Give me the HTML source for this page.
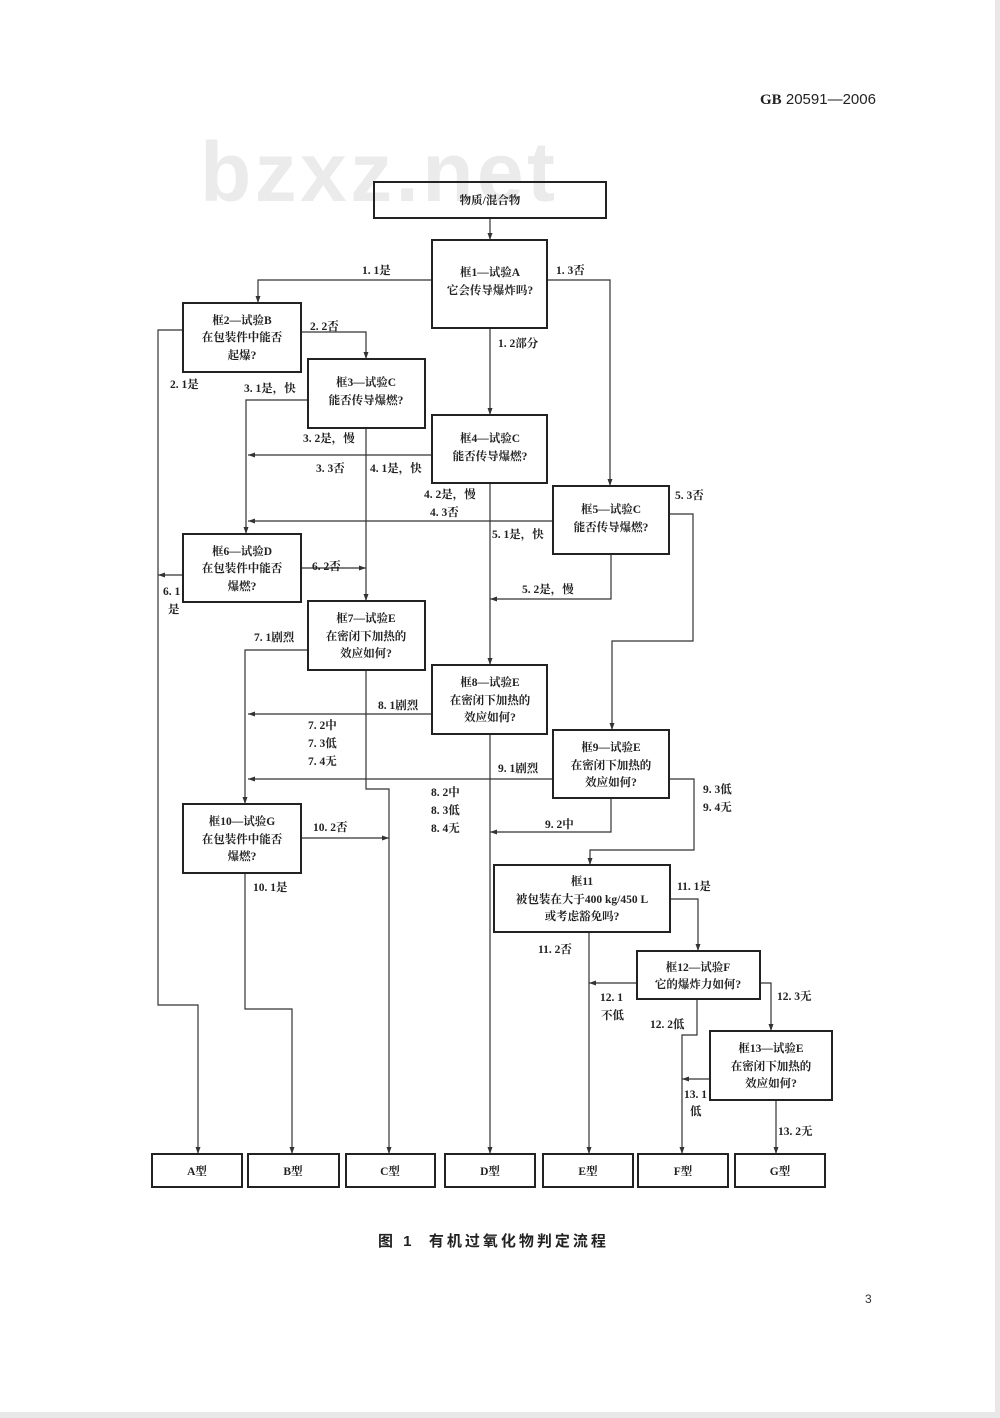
<!DOCTYPE html>
<html><head><meta charset="utf-8"><style>
html,body{margin:0;padding:0;background:#fff;}
svg{display:block;}
text{font-family:"Liberation Serif","Noto Serif CJK SC","Noto Sans CJK SC",serif;font-size:11.5px;fill:#222;}
.b{font-weight:bold;}
.c{text-anchor:middle;}
</style></head><body>
<svg width="1000" height="1418" viewBox="0 0 1000 1418" xmlns="http://www.w3.org/2000/svg">
<defs><marker id="a" markerWidth="8" markerHeight="8" refX="7" refY="4" orient="auto" markerUnits="userSpaceOnUse"><path d="M0,1.5 L7,4 L0,6.5 z" fill="#333"/></marker></defs>
<rect x="995" y="0" width="5" height="1418" fill="#e8e8e8"/>
<rect x="0" y="1412" width="1000" height="6" fill="#e8e8e8"/>
<text x="760" y="104" style="font-family:'Liberation Sans',sans-serif;font-size:15px;fill:#222"><tspan font-weight="bold" style="font-family:'Liberation Serif',serif">GB</tspan> 20591—2006</text>
<text x="200" y="201" textLength="355" style="font-family:'Liberation Sans',sans-serif;font-size:84px;font-weight:bold;fill:#ebebeb">bzxz.net</text>

<g fill="none" stroke="#333" stroke-width="1.2">
<path d="M490,218 V240" marker-end="url(#a)"/>
<path d="M432,280 H258 V303" marker-end="url(#a)"/>
<path d="M547,280 H610 V486" marker-end="url(#a)"/>
<path d="M490,328 V415" marker-end="url(#a)"/>
<path d="M183,330 H158 V1005 H198 V1154" marker-end="url(#a)"/>
<path d="M301,332 H366 V359" marker-end="url(#a)"/>
<path d="M308,400 H246 V534" marker-end="url(#a)"/>
<path d="M432,455 H248" marker-end="url(#a)"/>
<path d="M366,428 V601" marker-end="url(#a)"/>
<path d="M553,521 H248" marker-end="url(#a)"/>
<path d="M490,483 V665" marker-end="url(#a)"/>
<path d="M611,554 V599 H490" marker-end="url(#a)"/>
<path d="M669,514 H693 V641 H612 V730" marker-end="url(#a)"/>
<path d="M183,575 H158" marker-end="url(#a)"/>
<path d="M301,568 H366" marker-end="url(#a)"/>
<path d="M308,650 H245 V804" marker-end="url(#a)"/>
<path d="M432,714 H248" marker-end="url(#a)"/>
<path d="M553,779 H248" marker-end="url(#a)"/>
<path d="M366,670 V789 H389 V1154" marker-end="url(#a)"/>
<path d="M301,838 H389" marker-end="url(#a)"/>
<path d="M490,734 V1154" marker-end="url(#a)"/>
<path d="M611,798 V832 H490" marker-end="url(#a)"/>
<path d="M669,779 H694 V850 H590 V865" marker-end="url(#a)"/>
<path d="M245,873 V1009 H292 V1154" marker-end="url(#a)"/>
<path d="M589,932 V1154" marker-end="url(#a)"/>
<path d="M670,899 H698 V951" marker-end="url(#a)"/>
<path d="M637,983 H589" marker-end="url(#a)"/>
<path d="M760,983 H771 V1031" marker-end="url(#a)"/>
<path d="M697,999 V1035 H682 V1154" marker-end="url(#a)"/>
<path d="M710,1079 H682" marker-end="url(#a)"/>
<path d="M776,1100 V1154" marker-end="url(#a)"/>
</g>
<g fill="#fff" stroke="#222" stroke-width="2">
<rect x="374" y="182" width="232" height="36" fill="none"/>
<rect x="432" y="240" width="115" height="88"/>
<rect x="183" y="303" width="118" height="69"/>
<rect x="308" y="359" width="117" height="69"/>
<rect x="432" y="415" width="115" height="68"/>
<rect x="553" y="486" width="116" height="68"/>
<rect x="183" y="534" width="118" height="68"/>
<rect x="308" y="601" width="117" height="69"/>
<rect x="432" y="665" width="115" height="69"/>
<rect x="553" y="730" width="116" height="68"/>
<rect x="183" y="804" width="118" height="69"/>
<rect x="494" y="865" width="176" height="67"/>
<rect x="637" y="951" width="123" height="48"/>
<rect x="710" y="1031" width="122" height="69"/>
<rect x="152" y="1154" width="90" height="33"/>
<rect x="248" y="1154" width="91" height="33"/>
<rect x="346" y="1154" width="89" height="33"/>
<rect x="445" y="1154" width="90" height="33"/>
<rect x="543" y="1154" width="90" height="33"/>
<rect x="638" y="1154" width="90" height="33"/>
<rect x="735" y="1154" width="90" height="33"/>
</g>
<g class="b">
<text class="c" x="490" y="204">物质/混合物</text>
<text class="c" x="490" y="276">框1—试验A</text><text class="c" x="490" y="294">它会传导爆炸吗?</text>
<text class="c" x="242" y="324">框2—试验B</text><text class="c" x="242" y="341">在包装件中能否</text><text class="c" x="242" y="359">起爆?</text>
<text class="c" x="366" y="386">框3—试验C</text><text class="c" x="366" y="404">能否传导爆燃?</text>
<text class="c" x="490" y="442">框4—试验C</text><text class="c" x="490" y="460">能否传导爆燃?</text>
<text class="c" x="611" y="513">框5—试验C</text><text class="c" x="611" y="531">能否传导爆燃?</text>
<text class="c" x="242" y="555">框6—试验D</text><text class="c" x="242" y="572">在包装件中能否</text><text class="c" x="242" y="590">爆燃?</text>
<text class="c" x="366" y="622">框7—试验E</text><text class="c" x="366" y="640">在密闭下加热的</text><text class="c" x="366" y="657">效应如何?</text>
<text class="c" x="490" y="686">框8—试验E</text><text class="c" x="490" y="704">在密闭下加热的</text><text class="c" x="490" y="721">效应如何?</text>
<text class="c" x="611" y="751">框9—试验E</text><text class="c" x="611" y="769">在密闭下加热的</text><text class="c" x="611" y="786">效应如何?</text>
<text class="c" x="242" y="825">框10—试验G</text><text class="c" x="242" y="843">在包装件中能否</text><text class="c" x="242" y="860">爆燃?</text>
<text class="c" x="582" y="885">框11</text><text class="c" x="582" y="903">被包装在大于400 kg/450 L</text><text class="c" x="582" y="920">或考虑豁免吗?</text>
<text class="c" x="698" y="971">框12—试验F</text><text class="c" x="698" y="988">它的爆炸力如何?</text>
<text class="c" x="771" y="1052">框13—试验E</text><text class="c" x="771" y="1070">在密闭下加热的</text><text class="c" x="771" y="1087">效应如何?</text>
<text class="c" x="197" y="1175">A型</text><text class="c" x="293" y="1175">B型</text><text class="c" x="390" y="1175">C型</text><text class="c" x="490" y="1175">D型</text><text class="c" x="588" y="1175">E型</text><text class="c" x="683" y="1175">F型</text><text class="c" x="780" y="1175">G型</text>
</g>
<g class="b">
<text x="362" y="274">1. 1是</text>
<text x="556" y="274">1. 3否</text>
<text x="498" y="347">1. 2部分</text>
<text x="310" y="330">2. 2否</text>
<text x="170" y="388">2. 1是</text>
<text x="244" y="392">3. 1是，快</text>
<text x="303" y="442">3. 2是，慢</text>
<text x="316" y="472">3. 3否</text>
<text x="370" y="472">4. 1是，快</text>
<text x="424" y="498">4. 2是，慢</text>
<text x="430" y="516">4. 3否</text>
<text x="492" y="538">5. 1是，快</text>
<text x="675" y="499">5. 3否</text>
<text x="312" y="570">6. 2否</text>
<text x="163" y="595">6. 1</text><text x="168" y="613">是</text>
<text x="522" y="593">5. 2是，慢</text>
<text x="254" y="641">7. 1剧烈</text>
<text x="378" y="709">8. 1剧烈</text>
<text x="308" y="729">7. 2中</text><text x="308" y="747">7. 3低</text><text x="308" y="765">7. 4无</text>
<text x="498" y="772">9. 1剧烈</text>
<text x="431" y="796">8. 2中</text><text x="431" y="814">8. 3低</text><text x="431" y="832">8. 4无</text>
<text x="703" y="793">9. 3低</text><text x="703" y="811">9. 4无</text>
<text x="545" y="828">9. 2中</text>
<text x="313" y="831">10. 2否</text>
<text x="253" y="891">10. 1是</text>
<text x="677" y="890">11. 1是</text>
<text x="538" y="953">11. 2否</text>
<text x="600" y="1001">12. 1</text><text x="601" y="1019">不低</text>
<text x="777" y="1000">12. 3无</text>
<text x="650" y="1028">12. 2低</text>
<text x="684" y="1098">13. 1</text><text x="690" y="1115">低</text>
<text x="778" y="1135">13. 2无</text>
</g>
<text x="378" y="1246" style="font-family:'Liberation Sans','Noto Sans CJK SC',sans-serif;font-size:15px;font-weight:bold;letter-spacing:3px;fill:#222" xml:space="preserve">图 1  有机过氧化物判定流程</text>
<text x="865" y="1303" style="font-family:'Liberation Sans',sans-serif;font-size:12px;fill:#333">3</text>
</svg>
</body></html>
